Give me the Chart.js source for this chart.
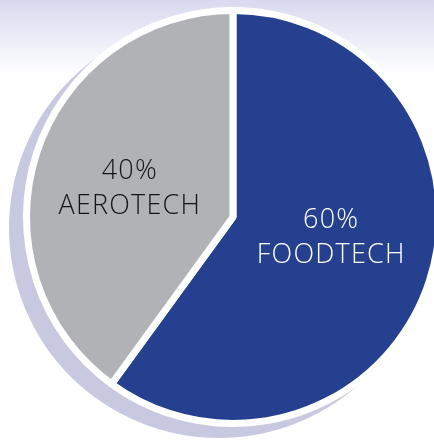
<!DOCTYPE html>
<html>
<head>
<meta charset="utf-8">
<script src="https://cdn.jsdelivr.net/npm/chart.js@4/dist/chart.umd.min.js"></script>
<style>
  html, body { margin: 0; padding: 0; }
  body {
    width: 434px; height: 442px; overflow: hidden;
    background: linear-gradient(to bottom, #d8d9ef 0px, #eceef8 40px, #ffffff 75px);
  }
  #wrap { position: relative; width: 466px; height: 442px; }
</style>
</head>
<body>
<div id="wrap"><canvas id="pie"></canvas></div>
<script>
const categories = ['FOODTECH', 'AEROTECH'];
const shares = [60, 40];
const sliceColors = ['#24408e', '#b1b2b5'];
const textColors = ['#ffffff', '#151515'];

// lavender crescent behind the pie
const shadowPlugin = {
  id: 'shadow',
  beforeDatasetsDraw(chart) {
    const arc = chart.getDatasetMeta(0).data[0];
    if (!arc) return;
    const ctx = chart.ctx;
    ctx.save();
    ctx.fillStyle = '#c9c8e1';
    ctx.beginPath();
    ctx.arc(arc.x - 14, arc.y + 11, arc.outerRadius + 3.5, 0, Math.PI * 2);
    ctx.fill();
    ctx.restore();
  }
};

// nudges so the two-line labels sit where the original put them
const labelShift = [[0, -12], [-5, 3]];

const labelPlugin = {
  id: 'sliceLabels',
  afterDatasetsDraw(chart) {
    const ctx = chart.ctx;
    const meta = chart.getDatasetMeta(0);
    ctx.save();
    ctx.font = '300 27px "Open Sans", "Liberation Sans", sans-serif';
    ctx.letterSpacing = '1.2px';
    ctx.textAlign = 'center';
    ctx.textBaseline = 'middle';
    meta.data.forEach((arc, i) => {
      const p = arc.tooltipPosition();
      const x = p.x + labelShift[i][0], y = p.y + labelShift[i][1];
      ctx.fillStyle = textColors[i];
      ctx.fillText(shares[i] + '%', x, y - 17);
      ctx.fillText(categories[i], x, y + 18);
    });
    ctx.restore();
  }
};

new Chart(document.getElementById('pie'), {
  type: 'pie',
  data: {
    labels: categories,
    datasets: [{
      data: shares,
      backgroundColor: sliceColors,
      borderColor: '#ffffff',
      borderWidth: 7
    }]
  },
  options: {
    responsive: true,
    maintainAspectRatio: false,
    animation: false,
    rotation: 0,
    layout: { padding: { left: 23, right: 23, top: 7, bottom: 15 } },
    plugins: {
      legend: { display: false },
      tooltip: { enabled: false }
    }
  },
  plugins: [shadowPlugin, labelPlugin]
});
</script>
</body>
</html>
